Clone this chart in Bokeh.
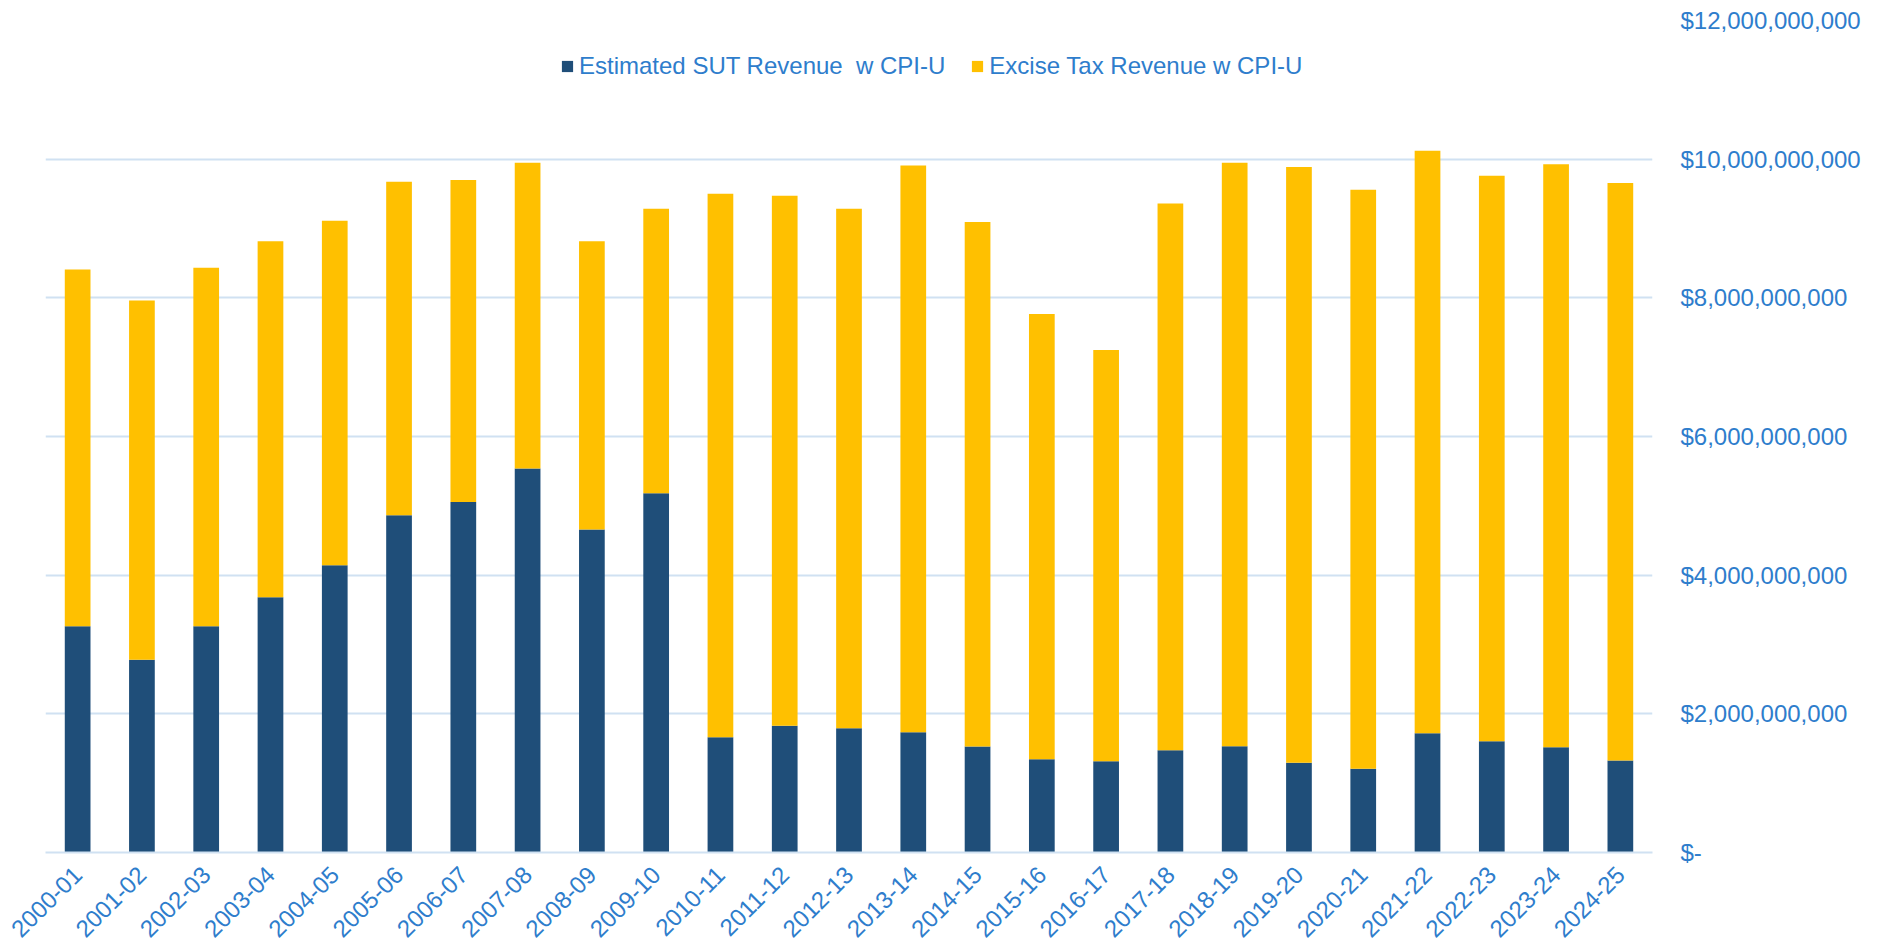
import math
from bokeh.plotting import figure
from bokeh.models import FactorRange, Range1d, FixedTicker, Legend, LegendItem
from bokeh.embed import file_html
from bokeh.resources import INLINE

years = ["2000-01", "2001-02", "2002-03", "2003-04", "2004-05", "2005-06", "2006-07",
         "2007-08", "2008-09", "2009-10", "2010-11", "2011-12", "2012-13", "2013-14",
         "2014-15", "2015-16", "2016-17", "2017-18", "2018-19", "2019-20", "2020-21",
         "2021-22", "2022-23", "2023-24", "2024-25"]

sut_revenue = [3.263e9, 2.779e9, 3.263e9, 3.682e9, 4.143e9, 4.864e9, 5.057e9, 5.537e9,
               4.658e9, 5.181e9, 1.663e9, 1.827e9, 1.793e9, 1.735e9, 1.529e9, 1.346e9,
               1.317e9, 1.476e9, 1.533e9, 1.293e9, 1.207e9, 1.721e9, 1.605e9, 1.519e9,
               1.327e9]

excise_revenue = [5.144e9, 5.181e9, 5.172e9, 5.133e9, 4.970e9, 4.812e9, 4.643e9, 4.413e9,
                  4.157e9, 4.105e9, 7.837e9, 7.647e9, 7.493e9, 8.172e9, 7.566e9, 6.422e9,
                  5.932e9, 7.883e9, 8.417e9, 8.595e9, 8.353e9, 8.402e9, 8.157e9, 8.406e9,
                  8.330e9]

y_ticks = [0, 2e9, 4e9, 6e9, 8e9, 10e9, 12e9]
y_tick_labels = ["$-", "$2,000,000,000", "$4,000,000,000", "$6,000,000,000",
                 "$8,000,000,000", "$10,000,000,000", "$12,000,000,000"]

series_names = ["Estimated SUT Revenue  w CPI-U", "Excise Tax Revenue w CPI-U"]
series_colors = ["#1F4E79", "#FFC000"]

TEXT = "#2E7DCC"
GRID = "#D0E1F2"
FONT = "Liberation Sans"

source = dict(years=years, sut=sut_revenue, excise=excise_revenue)

p = figure(x_range=FactorRange(*years, range_padding=0), y_range=Range1d(0, 12e9),
           width=1863, height=947, output_backend="svg", toolbar_location=None,
           y_axis_location="right", min_border_left=45, min_border_top=20,
           min_border_right=208, min_border_bottom=95)
p.outline_line_color = None
p.background_fill_color = "white"
p.border_fill_color = "white"

renderers = p.vbar_stack(["sut", "excise"], x="years", width=0.4, color=series_colors,
                         line_color=None, source=source)

p.xgrid.grid_line_color = None
p.ygrid.grid_line_color = GRID
p.ygrid.grid_line_width = 2
p.ygrid.ticker = FixedTicker(ticks=y_ticks)

ya = p.yaxis[0]
ya.ticker = FixedTicker(ticks=y_ticks)
ya.major_label_overrides = {t: l for t, l in zip(y_ticks, y_tick_labels)}
ya.axis_line_color = None
ya.major_tick_line_color = None
ya.minor_tick_line_color = None
ya.major_tick_out = 0
ya.major_label_standoff = 28
ya.major_label_text_color = TEXT
ya.major_label_text_font = FONT
ya.major_label_text_font_size = "24px"

xa = p.xaxis[0]
xa.axis_line_color = GRID
xa.axis_line_width = 2
xa.major_tick_line_color = None
xa.minor_tick_line_color = None
xa.major_tick_out = 0
xa.major_label_orientation = math.pi / 4
xa.major_label_standoff = 18
xa.major_label_text_color = TEXT
xa.major_label_text_font = FONT
xa.major_label_text_font_size = "24px"

legend = Legend(items=[LegendItem(label=n, renderers=[r]) for n, r in zip(series_names, renderers)],
                orientation="horizontal", location=(515, 772), padding=0, margin=0,
                spacing=25, glyph_width=14, glyph_height=14, label_standoff=5,
                border_line_color=None, background_fill_alpha=0,
                label_text_color=TEXT, label_text_font=FONT, label_text_font_size="24px")
p.add_layout(legend, "center")

open("out.html", "w").write(file_html(p, INLINE))
